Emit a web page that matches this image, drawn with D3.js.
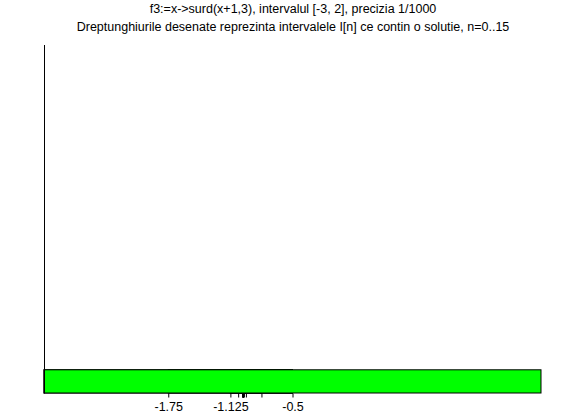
<!DOCTYPE html>
<html>
<head>
<meta charset="utf-8">
<script src="https://cdn.jsdelivr.net/npm/d3@7"></script>
<style>
  body { margin: 0; background: #fff; }
  svg { display: block; }
  text { font-family: "Liberation Sans", Arial, sans-serif; font-size: 12.5px; fill: #000; }
</style>
</head>
<body>
<svg id="chart" width="586" height="412"></svg>
<script>
// bisection intervals I[n] = [left, right], n=0..15
var lefts = [-3, -3, -1.75, -1.125, -1.125, -1.125, -1.046875, -1.0078125, -1.0078125, -1.0078125,
  -1.0029296875, -1.00048828125, -1.00048828125, -1.00048828125, -1.00018310546875, -1.000030517578125];
var rights = [2, -0.5, -0.5, -0.5, -0.8125, -0.96875, -0.96875, -0.96875, -0.98828125, -0.998046875,
  -0.998046875, -0.998046875, -0.999267578125, -0.9998779296875, -0.9998779296875, -0.9998779296875];
// tick marks at the midpoints, only some get labels
var midpoints = [-0.5, -1.75, -1.125, -0.8125, -0.96875, -1.046875, -1.0078125, -0.98828125,
  -0.998046875, -1.0029296875, -1.00048828125, -0.999267578125, -0.9998779296875,
  -1.00018310546875, -1.000030517578125, -0.9999542236328125];
var tickLabels = ["-1.75", "-1.125", "-0.5"];
var titleLines = [
  "f3:=x->surd(x+1,3), intervalul [-3, 2], precizia 1/1000",
  "Dreptunghiurile desenate reprezinta intervalele I[n] ce contin o solutie, n=0..15"
];

var svg = d3.select("#chart");
var margin = { top: 45, right: 45, bottom: 19, left: 44 };
var width = 586 - margin.left - margin.right,
  height = 412 - margin.top - margin.bottom;

var x = d3.scaleLinear().domain([-3, 2]).range([margin.left, margin.left + width]);
var y = d3.scaleLinear().domain([0, 15]).range([margin.top + height, margin.top]);

svg.selectAll("text.title")
  .data(titleLines)
  .enter().append("text")
  .attr("class", "title")
  .attr("x", 293)
  .attr("y", function (d, i) { return 13 + i * 18; })
  .attr("text-anchor", "middle")
  .text(function (d) { return d; });

var intervals = lefts.map(function (l, i) { return { n: i, a: l, b: rights[i] }; });

// outer interval last so it sits on top
svg.append("g")
  .selectAll("rect")
  .data(intervals.slice().reverse())
  .enter().append("rect")
  .attr("x", function (d) { return x(d.a); })
  .attr("y", y(1))
  .attr("width", function (d) { return x(d.b) - x(d.a); })
  .attr("height", y(0) - y(1))
  .attr("fill", "#00ff00")
  .attr("stroke", "#000")
  .attr("stroke-width", 1);

var xAxis = d3.axisBottom(x)
  .tickValues(midpoints)
  .tickSize(4)
  .tickFormat(function (d) {
    var s = String(d);
    return tickLabels.indexOf(s) >= 0 ? s : "";
  });

var gx = svg.append("g")
  .attr("transform", "translate(0," + (y(0) + 0.5) + ")")
  .call(xAxis);
gx.select(".domain").remove();
gx.selectAll("text")
  .attr("dy", null)
  .attr("y", 17)
  .style("font-family", "Liberation Sans, Arial, sans-serif")
  .style("font-size", "12.5px");

svg.append("line")
  .attr("x1", x(-3) + 0.5).attr("x2", x(-3) + 0.5)
  .attr("y1", y(15)).attr("y2", y(0) + 0.5)
  .attr("stroke", "#000");
</script>
</body>
</html>
